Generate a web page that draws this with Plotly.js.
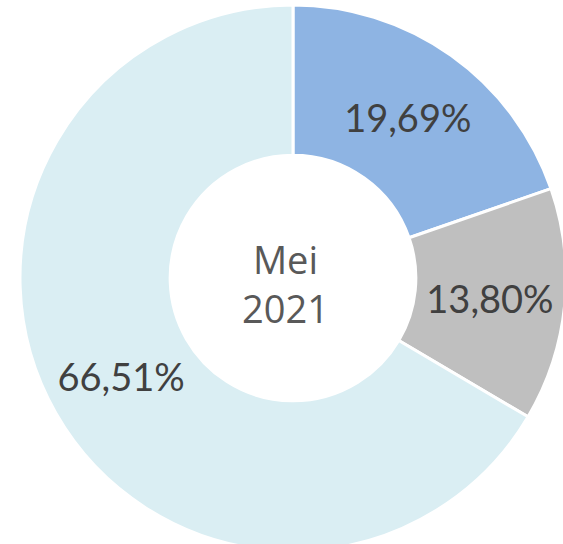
<!DOCTYPE html>
<html><head><meta charset="utf-8">
<script src="https://cdn.plot.ly/plotly-3.0.1.min.js"></script>
<style>html,body{margin:0;padding:0;overflow:hidden;background:#fff;width:563px;height:544px;}
#chart{position:absolute;left:20px;top:0px;width:546px;height:556px;}</style>
</head><body><div id="chart"></div>
<script>
const labels = ["Segmen A", "Segmen B", "Segmen C"];
const values = [19.69, 13.80, 66.51];
const valueText = ["19,69%", "13,80%", "66,51%"];
const colors = ["#8EB4E3", "#BFBFBF", "#DAEEF3"];
const centerText = "Mei<br>2021";

Plotly.newPlot("chart", [{
  type: "pie",
  labels: labels,
  values: values,
  text: valueText,
  textinfo: "text",
  textposition: "inside",
  insidetextorientation: "horizontal",
  hole: 0.45,
  sort: false,
  direction: "clockwise",
  rotation: 0,
  marker: {colors: colors, line: {color: "#ffffff", width: 3}},
  textfont: {family: "Lato, 'Open Sans', sans-serif", size: 38, color: "#404040"},
  hoverinfo: "none"
}], {
  width: 546, height: 556,
  margin: {l: 0, r: 0, t: 0, b: 0},
  showlegend: false,
  paper_bgcolor: "#ffffff",
  annotations: [{
    text: centerText, xref: "paper", yref: "paper", x: 0.5, y: 0.5,
    xanchor: "center", yanchor: "middle", xshift: -8, yshift: -5,
    showarrow: false,
    font: {family: "'Open Sans', Lato, sans-serif", size: 38, color: "#595959"}
  }]
}, {displayModeBar: false, staticPlot: true});
</script></body></html>
